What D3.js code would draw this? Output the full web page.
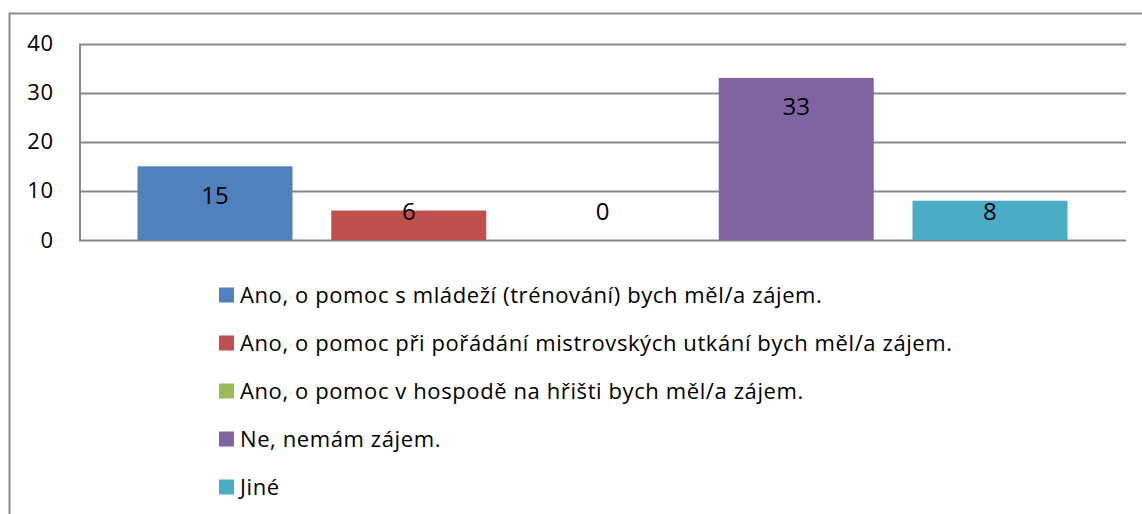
<!DOCTYPE html>
<html>
<head>
<meta charset="utf-8">
<script src="https://cdn.jsdelivr.net/npm/d3@7"></script>
<style>
    body { margin: 0; background: #fff; }
    svg text { font-family: "Open Sans", sans-serif; fill: #000; }
</style>
</head>
<body>
<div id="chart"></div>
<script>
// chart data
var seriesNames = [
    "Ano, o pomoc s mládeží (trénování) bych měl/a zájem.",
    "Ano, o pomoc při pořádání mistrovských utkání bych měl/a zájem.",
    "Ano, o pomoc v hospodě na hřišti bych měl/a zájem.",
    "Ne, nemám zájem.",
    "Jiné"
];
var seriesValues = [15, 6, 0, 33, 8];
var seriesColors = ["#4f81bd", "#c0504d", "#9bbb59", "#8064a2", "#4bacc6"];
var yTicks = [0, 10, 20, 30, 40];

function init(){
    var w = 1142;
    var h = 514;

    var svg = d3.select("#chart")
                .append("svg")
                .attr("width", w)
                .attr("height", h);

    // outer chart border
    svg.append("rect")
        .attr("x", 9.5)
        .attr("y", 13.5)
        .attr("width", w + 20)
        .attr("height", h + 20)
        .attr("fill", "none")
        .attr("stroke", "#8c8c8c")
        .attr("stroke-width", 2);

    var x = d3.scaleBand()
              .domain(d3.range(seriesValues.length))
              .range([79, 1126])
              .paddingInner(0.2)
              .paddingOuter(0.302);

    var y = d3.scaleLinear()
              .domain([0, 40])
              .range([240, 43.5]);

    // gridlines
    svg.append("g")
        .selectAll("line")
        .data(yTicks)
        .enter()
        .append("line")
        .attr("x1", 79)
        .attr("x2", 1126)
        .attr("y1", function(d) { return Math.round(y(d)) + 0.5; })
        .attr("y2", function(d) { return Math.round(y(d)) + 0.5; })
        .attr("stroke", "#888")
        .attr("stroke-width", 2);

    // y axis
    var yAxis = d3.axisLeft(y)
                  .tickValues(yTicks)
                  .tickSize(0)
                  .tickPadding(26);
    var gy = svg.append("g")
        .attr("transform", "translate(79.5,0)")
        .call(yAxis);
    gy.select(".domain").attr("stroke", "#888").attr("stroke-width", 2);
    gy.selectAll("text")
        .style("font-size", "22px")
        .style("letter-spacing", "0.5px")
        .attr("fill", "#000");

    // bars
    svg.selectAll("rect.bar")
        .data(seriesValues)
        .enter()
        .append("rect")
        .attr("class", "bar")
        .attr("x", function(d, i) { return x(i); })
        .attr("y", function(d) { return y(d); })
        .attr("width", x.bandwidth())
        .attr("height", function(d) { return y(0) - y(d); })
        .attr("fill", function(d, i) { return seriesColors[i]; });

    // data labels, inside end (kept above the axis for small bars)
    svg.selectAll("text.label")
        .data(seriesValues)
        .enter()
        .append("text")
        .attr("class", "label")
        .text(function(d) { return d; })
        .attr("x", function(d, i) { return x(i) + x.bandwidth() / 2; })
        .attr("y", function(d) { return Math.min(y(d) + 29, 212); })
        .attr("dy", "0.35em")
        .attr("text-anchor", "middle")
        .style("font-size", "24px");

    // legend
    var legend = svg.append("g")
        .selectAll("g")
        .data(seriesNames)
        .enter()
        .append("g")
        .attr("transform", function(d, i) { return "translate(219," + (295 + i * 48) + ")"; });

    legend.append("rect")
        .attr("x", 0)
        .attr("y", -7.5)
        .attr("width", 15)
        .attr("height", 15)
        .attr("fill", function(d, i) { return seriesColors[i]; });

    legend.append("text")
        .attr("x", 21)
        .attr("y", 0)
        .attr("dy", "0.35em")
        .text(function(d) { return d; })
        .style("font-size", "22px")
        .style("letter-spacing", "0.6px");
}

window.onload = init;
</script>
</body>
</html>
